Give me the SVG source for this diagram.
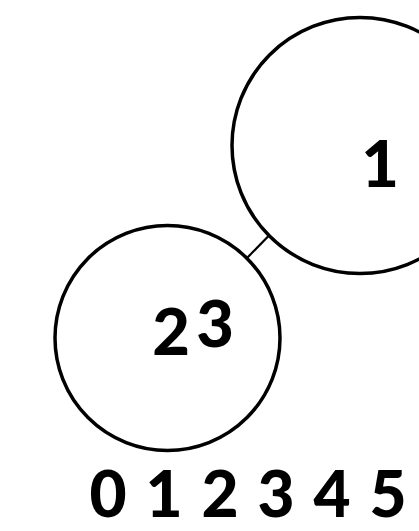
<svg xmlns="http://www.w3.org/2000/svg" width="419" height="531" viewBox="0 0 419 531">
<style>
.node{fill:#fff;stroke:#000;stroke-width:3.5}
.edge{stroke:#000;stroke-width:2.2;fill:none}
.lbl{font-family:Lato,"Open Sans","Liberation Sans",sans-serif;font-weight:900;font-size:65px;fill:#000;text-anchor:middle}
.axis{font-family:Lato,"Open Sans","Liberation Sans",sans-serif;font-weight:900;font-size:64px;fill:#000;text-anchor:middle}
</style>
<rect width="419" height="531" fill="#fff"/>
<g id="connectors">
<line class="edge" x1="247" y1="258" x2="269.5" y2="235"/>
</g>
<g id="node1">
<circle class="node" cx="360" cy="145.5" r="128"/>
<text class="lbl" x="380" y="187">1</text>
</g>
<g id="node23">
<circle class="node" cx="167.5" cy="338" r="112.5"/>
<text class="lbl" x="171" y="355">2</text>
<text class="lbl" x="215" y="347">3</text>
</g>
<g id="axis">
<text class="axis" x="108" y="517">0</text>
<text class="axis" x="164" y="517">1</text>
<text class="axis" x="220" y="517">2</text>
<text class="axis" x="276" y="517">3</text>
<text class="axis" x="332" y="517">4</text>
<text class="axis" x="388" y="517">5</text>
</g>
</svg>
